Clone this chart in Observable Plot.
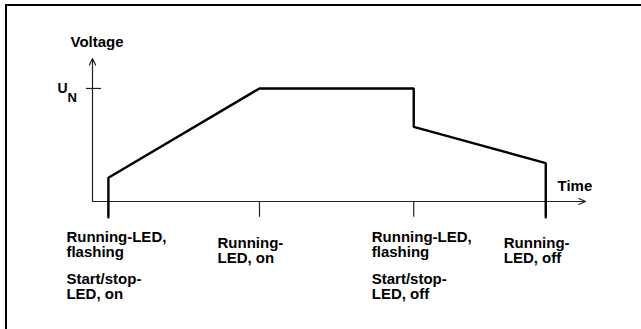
<!DOCTYPE html>
<html>
<head>
<meta charset="utf-8">
<script src="https://cdn.jsdelivr.net/npm/d3@7"></script>
<script src="https://cdn.jsdelivr.net/npm/@observablehq/plot@0.6"></script>
<style>
  html, body { margin: 0; padding: 0; background: #fff; }
  #wrap { position: relative; width: 641px; height: 329px; overflow: hidden; }
  #wrap svg { display: block; }
  #border { position: absolute; left: 5px; top: 4px; width: 700px; height: 400px;
            border-left: 2px solid #000; border-top: 2px solid #000; pointer-events: none; }
</style>
</head>
<body>
<div id="wrap"><div id="border"></div></div>
<script>
// Event times (arbitrary time units) and LED states
const eventTime = [1, 10.5, 20.2, 28.5];
const runningLED = ["Running-LED,\nflashing", "Running-\nLED, on", "Running-LED,\nflashing", "Running-\nLED, off"];
const startStopLED = ["Start/stop-\nLED, on", "", "Start/stop-\nLED, off", ""];
const labelRow = [0, 1, 0, 1];

// Voltage curve (U_N = 1)
const curveTime    = [1, 1, 10.5, 20.2, 20.2, 28.5, 28.5];
const curveVoltage = [-0.14, 0.21, 1, 1, 0.66, 0.34, -0.14];

const UN = 1;
const timeMax = 31;
const voltageMax = 1.265;
const tickDepth = -0.14;

const curve = curveTime.map((t, i) => ({t, v: curveVoltage[i]}));
const events = eventTime.map((t, i) => ({t, run: runningLED[i], ss: startStopLED[i], row: labelRow[i]}));

const font = "'Liberation Sans', Arial, Helvetica, sans-serif";
const fs = 15;

const chart = Plot.plot({
  width: 641,
  height: 329,
  margin: 0,
  style: {background: "transparent", fontFamily: font, color: "#000"},
  x: {domain: [0, timeMax], range: [92, 585], axis: null},
  y: {domain: [0, voltageMax], range: [201, 58], axis: null},
  marks: [
    // axes
    Plot.arrow([{x1: 0, y1: 0, x2: timeMax, y2: 0}], {x1: "x1", y1: "y1", x2: "x2", y2: "y2", stroke: "#222", strokeWidth: 1.2, headLength: 9, headAngle: 50}),
    Plot.arrow([{x1: 0, y1: 0, x2: 0, y2: voltageMax}], {x1: "x1", y1: "y1", x2: "x2", y2: "y2", stroke: "#222", strokeWidth: 1.2, headLength: 9, headAngle: 50}),
    // U_N tick
    Plot.ruleY([UN], {x1: -0.38, x2: 0.57, stroke: "#222", strokeWidth: 1.2}),
    // event ticks below axis
    Plot.ruleX(eventTime, {y1: 0, y2: tickDepth, stroke: "#222", strokeWidth: 1.2}),
    // voltage curve
    Plot.line(curve, {x: "t", y: "v", stroke: "#000", strokeWidth: 2.4, strokeLinejoin: "miter"}),
    // axis labels
    Plot.text(["Voltage"], {x: 0, y: voltageMax, dx: -22, dy: -16, textAnchor: "start", fontWeight: "bold", fontSize: fs}),
    Plot.text(["Time"], {x: timeMax, y: 0, dx: -28, dy: -15, textAnchor: "start", fontWeight: "bold", fontSize: fs}),
    Plot.text(["U"], {x: 0, y: UN, dx: -35, dy: 0, textAnchor: "start", fontWeight: "bold", fontSize: 14}),
    Plot.text(["N"], {x: 0, y: UN, dx: -25, dy: 9, textAnchor: "start", fontWeight: "bold", fontSize: 13}),
    // LED state labels
    Plot.text(events, {filter: (d) => d.row === 0, x: "t", y: tickDepth, text: "run", dx: -42, dy: 13, textAnchor: "start", lineAnchor: "top", lineHeight: 1.05, fontWeight: "bold", fontSize: fs}),
    Plot.text(events, {filter: (d) => d.row === 1, x: "t", y: tickDepth, text: "run", dx: -42, dy: 19, textAnchor: "start", lineAnchor: "top", lineHeight: 1.05, fontWeight: "bold", fontSize: fs}),
    Plot.text(events, {filter: (d) => d.ss !== "", x: "t", y: tickDepth, text: "ss", dx: -42, dy: 55, textAnchor: "start", lineAnchor: "top", lineHeight: 1.05, fontWeight: "bold", fontSize: fs})
  ]
});

document.getElementById("wrap").insertBefore(chart, document.getElementById("border"));
</script>
</body>
</html>
